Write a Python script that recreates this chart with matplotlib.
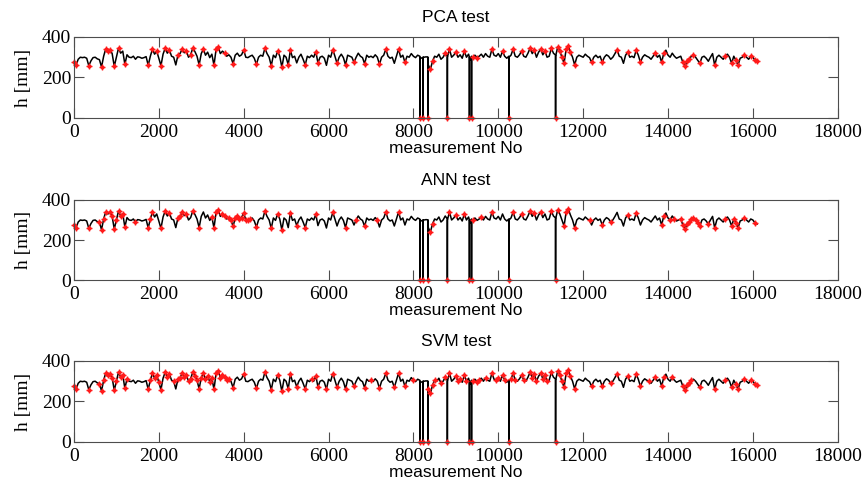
import numpy as np
import matplotlib.pyplot as plt

# water level h [mm], one reading every 50 measurements (0 ... 16100)
step = 50
h = [
    275, 262, 290, 300, 298, 300, 295, 258, 282, 298, 300, 292, 288, 252, 305, 342, 330, 338, 318, 255,
    300, 345, 320, 330, 265, 312, 300, 298, 305, 290, 302, 300, 295, 298, 303, 260, 305, 340, 315, 330,
    295, 258, 315, 345, 320, 335, 305, 300, 262, 310, 318, 340, 322, 330, 300, 312, 345, 328, 305, 262,
    318, 340, 310, 325, 298, 315, 260, 340, 350, 318, 330, 320, 305, 312, 300, 268, 310, 320, 305, 312,
    335, 300, 298, 305, 310, 295, 265, 300, 310, 305, 345, 318, 300, 258, 310, 298, 330, 305, 250, 310,
    300, 262, 335, 298, 305, 272, 300, 315, 290, 262, 305, 298, 310, 300, 328, 272, 300, 305, 295, 260,
    310, 300, 338, 305, 270, 300, 315, 298, 262, 310, 305, 300, 275, 300, 320, 305, 298, 268, 310, 300,
    305, 298, 312, 300, 265, 300, 310, 340, 305, 295, 300, 270, 305, 340, 300, 310, 275, 305, 300, 318,
    305, 298, 310, 300, 295, 300, 302, 262, 240, 280, 305, 300, 315, 290, 300, 320, 305, 340, 300, 310,
    325, 300, 312, 295, 330, 300, 315, 285, 300, 310, 298, 305, 315, 300, 318, 305, 300, 340, 310, 305,
    318, 300, 330, 305, 295, 300, 310, 340, 305, 300, 312, 330, 305, 300, 320, 345, 318, 335, 300, 325,
    340, 312, 330, 300, 305, 345, 320, 310, 350, 330, 300, 270, 340, 355, 325, 300, 262, 300, 310, 305,
    300, 315, 305, 298, 275, 300, 310, 298, 305, 275, 300, 312, 305, 290, 300, 318, 338, 305, 300, 270,
    310, 325, 300, 305, 298, 335, 310, 275, 300, 312, 305, 300, 290, 305, 320, 300, 310, 275, 320, 335,
    310, 300, 320, 305, 295, 300, 305, 275, 255, 280, 290, 305, 310, 300, 285, 270, 300, 305, 295, 280,
    300, 318, 260, 300, 310, 300, 290, 305, 315, 300, 270, 305, 285, 260, 295, 300, 310, 300, 290, 305,
    300, 285, 280,
]

# sensor drop-outs: single readings (and their neighbours) between the regular samples
spike_x = [8149, 8150, 8151,
           8229, 8230, 8231,
           8339, 8340, 8341, 8342,
           8799, 8800, 8801,
           9319, 9320, 9321,
           9369, 9370, 9371, 9372,
           10249, 10250, 10251, 10252,
           11349, 11350, 11351]
spike_y = [305, 0, 300,
           300, 0, 300,
           300, 0, 150, 300,
           305, 0, 300,
           300, 0, 300,
           305, 0, 130, 300,
           305, 0, 140, 300,
           310, 0, 305]

# measurements flagged as anomalies by each method
pca_flags = [
    0, 50, 350, 650, 750, 800, 850, 950, 1050, 1200, 1750, 1850, 1950, 2050, 2150, 2250,
    2450, 2550, 2650, 2750, 2800, 2950, 3050, 3300, 3350, 3400, 3550, 3750, 4000, 4300,
    4500, 4650, 4800, 4900, 5050, 5100, 5450, 5700, 5750, 6100, 6200, 6400, 6600, 6850,
    7200, 7350, 7650, 7800, 8150, 8230, 8340, 8400, 8450, 8750, 8800, 8850, 9000, 9200,
    9320, 9370, 9400, 9500, 9850, 10100, 10250, 10350, 10550, 10750, 10850, 11000, 11100,
    11250, 11350, 11400, 11450, 11500, 11550, 11600, 11650, 11700, 11800, 12200, 12450,
    12800, 13050, 13250, 13350, 13700, 13850, 13900, 14350, 14400, 14450, 14500, 14600,
    14750, 15100, 15350, 15500, 15600, 15650, 15800, 15950, 16050, 16100,
]
ann_flags = [
    0, 50, 350, 600, 650, 700, 750, 850, 900, 950, 1000, 1050, 1100, 1150, 1200, 1450,
    1750, 1800, 1850, 2050, 2150, 2250, 2450, 2500, 2550, 2650, 2800, 2950, 3250, 3300,
    3350, 3400, 3500, 3550, 3650, 3700, 3750, 3800, 3850, 3900, 3950, 4000, 4050, 4100,
    4150, 4300, 4500, 4650, 4800, 4900, 5100, 5250, 5450, 5700, 6100, 6400, 6650, 6850,
    7150, 7350, 7650, 8150, 8230, 8340, 8400, 8450, 8800, 8850, 9000, 9200, 9320, 9370,
    9400, 9600, 9850, 10250, 10350, 10550, 10750, 10850, 11000, 11250, 11350, 11400,
    11550, 11600, 11650, 11800, 12150, 12450, 12650, 13050, 13250, 13850, 13900, 14050,
    14150, 14300, 14350, 14400, 14450, 14500, 14550, 14600, 14650, 14700, 14750, 14950,
    15100, 15350, 15500, 15550, 15600, 15650, 15800, 16050,
]
svm_flags = [
    0, 50, 350, 600, 650, 700, 750, 800, 850, 900, 950, 1000, 1050, 1100, 1150, 1200,
    1250, 1750, 1800, 1850, 1900, 1950, 2000, 2050, 2150, 2200, 2250, 2350, 2450, 2500,
    2550, 2600, 2650, 2700, 2750, 2800, 2850, 2900, 2950, 3000, 3050, 3100, 3150, 3200,
    3250, 3300, 3350, 3400, 3450, 3500, 3550, 3600, 3650, 3750, 4000, 4300, 4500, 4650,
    4800, 4900, 5050, 5100, 5250, 5450, 5600, 5700, 5750, 5950, 6100, 6200, 6400, 6600,
    6850, 7000, 7200, 7350, 7550, 7650, 7800, 8000, 8150, 8230, 8340, 8350, 8400, 8450,
    8500, 8650, 8750, 8800, 8850, 9000, 9050, 9100, 9200, 9250, 9320, 9370, 9400, 9500,
    9550, 9700, 9850, 9950, 10000, 10100, 10150, 10250, 10300, 10350, 10400, 10550, 10600,
    10750, 10800, 10850, 10900, 11000, 11050, 11100, 11150, 11250, 11350, 11400, 11450,
    11500, 11550, 11600, 11650, 11700, 11800, 12200, 12450, 12650, 12800, 13050, 13250,
    13350, 13550, 13700, 13850, 13900, 14100, 14350, 14400, 14450, 14500, 14550, 14750,
    15100, 15350, 15500, 15600, 15650, 15800, 15950, 16050, 16100,
]

panels = [('PCA test', pca_flags), ('ANN test', ann_flags), ('SVM test', svm_flags)]

# merge regular readings and drop-outs into one sequence
x_reg = np.arange(len(h)) * step
x_all = np.concatenate([x_reg, spike_x])
y_all = np.concatenate([h, spike_y]).astype(float)
order = np.argsort(x_all, kind='stable')
x_all, y_all = x_all[order], y_all[order]
lookup = dict(zip(x_reg.tolist(), h))
lookup.update({int(x): y for x, y in zip(spike_x, spike_y) if y == 0})

serif = 'Liberation Serif'
sans = 'Liberation Sans'
red = '#ff1a1a'

fig = plt.figure(figsize=(8.64, 4.91), dpi=100)
axes_rects = [
    [0.0856, 0.7597, 0.884, 0.165],
    [0.0856, 0.4297, 0.884, 0.163],
    [0.0856, 0.0998, 0.884, 0.165],
]

for rect, (title, flags) in zip(axes_rects, panels):
    ax = fig.add_axes(rect)
    ax.plot(x_all, y_all, color='black', lw=1.1)
    fx = np.array(flags)
    fy = np.array([lookup[f] for f in flags])
    ax.plot(fx, fy, ls='none', marker='o', ms=3.0, color=red, mec='none', clip_on=False)
    ax.plot(fx, fy, ls='none', marker='+', ms=4.8, mew=1.0, color=red, clip_on=False)

    ax.set_xlim(0, 18000)
    ax.set_ylim(0, 400)
    ax.set_xticks(np.arange(0, 18001, 2000))
    ax.set_yticks([0, 200, 400])
    ax.tick_params(direction='in', length=7, width=0.8, color='0.3',
                   top=True, right=True, labelsize=14)
    ax.tick_params(axis='x', pad=4)
    ax.tick_params(axis='y', pad=2)
    for lab in ax.get_xticklabels() + ax.get_yticklabels():
        lab.set_fontfamily(serif)
    for sp in ax.spines.values():
        sp.set_color('0.3')
        sp.set_linewidth(0.8)

    ax.set_title(title, fontsize=12.5, family=sans, pad=11)
    ax.set_xlabel('measurement No', fontsize=12.5, family=sans, labelpad=0)
    ax.set_ylabel('h [mm]', fontsize=14, family=serif)
    ax.yaxis.set_label_coords(-0.055, 0.5)

plt.savefig('out.png', dpi=100)
plt.close()
